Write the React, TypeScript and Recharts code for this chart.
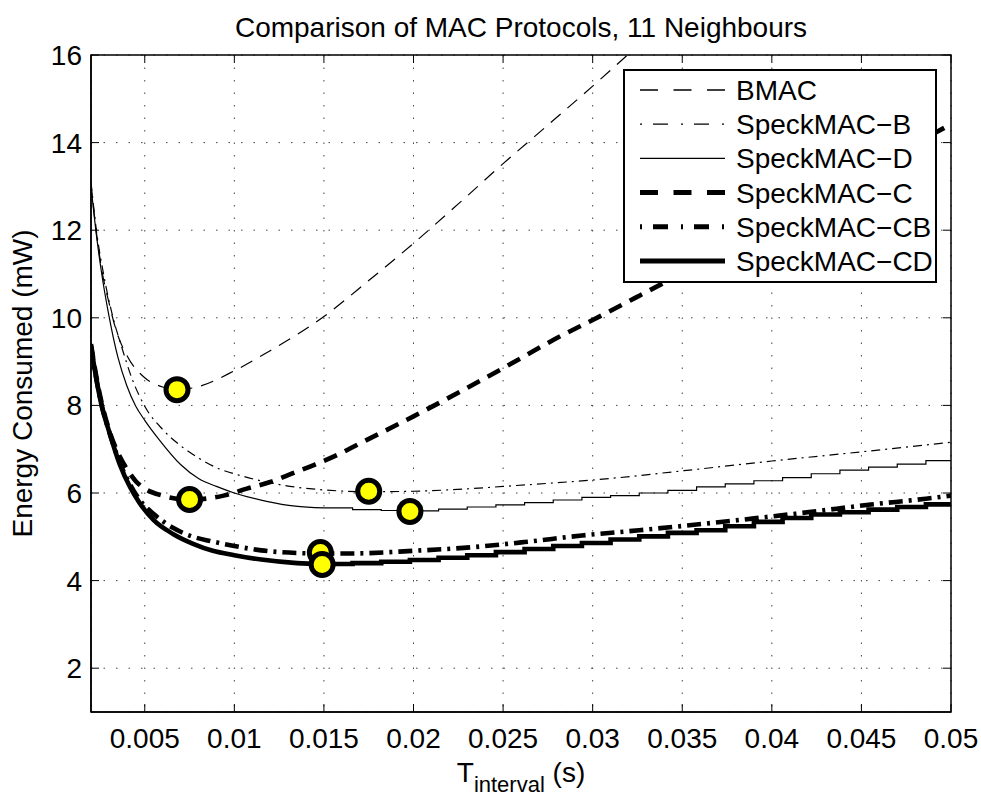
import { ComposedChart, Line, XAxis, YAxis, CartesianGrid } from 'recharts';

const FONT = '"Liberation Sans", Arial, Helvetica, sans-serif';

// axis ticks
const xTicks = [0.005, 0.01, 0.015, 0.02, 0.025, 0.03, 0.035, 0.04, 0.045, 0.05];
const yTicks = [2, 4, 6, 8, 10, 12, 14, 16];

const seriesNames = ['BMAC', 'SpeckMAC−B', 'SpeckMAC−D', 'SpeckMAC−C', 'SpeckMAC−CB', 'SpeckMAC−CD'];

// [T_interval (s), energy (mW)]
const bmac = [
  [0.002, 13.05], [0.0023, 11.95], [0.0026, 11.1], [0.003, 10.35], [0.0034, 9.72], [0.004, 9.14],
  [0.005, 8.63], [0.006, 8.42], [0.0068, 8.36], [0.008, 8.43], [0.01, 8.79], [0.012, 9.25],
  [0.015, 10.03], [0.0175, 10.85], [0.02, 11.7], [0.0225, 12.6], [0.025, 13.52], [0.0275, 14.4],
  [0.03, 15.29], [0.032, 16.02],
];

const speckB = [
  [0.002, 13.1], [0.0023, 12.0], [0.0027, 11.0], [0.0032, 10.05], [0.0037, 9.35], [0.0043, 8.6],
  [0.005, 7.98], [0.006, 7.45], [0.007, 7.08], [0.008, 6.8], [0.009, 6.58], [0.0105, 6.38],
  [0.0124, 6.2], [0.015, 6.07], [0.0175, 6.03], [0.02, 6.04], [0.0232, 6.1], [0.025, 6.15],
  [0.0275, 6.22], [0.0304, 6.31], [0.0351, 6.51], [0.04, 6.73], [0.045, 6.94], [0.05, 7.16],
];

// smooth descending part of SpeckMAC-D, the stepped part follows below
const speckDHead = [
  [0.002, 13.0], [0.0023, 11.9], [0.0026, 11.0], [0.003, 10.05], [0.0035, 9.1], [0.004, 8.45],
  [0.0045, 7.98], [0.005, 7.66], [0.0058, 7.22], [0.007, 6.65], [0.008, 6.33], [0.009, 6.15],
  [0.01, 6.0], [0.0118, 5.81], [0.0134, 5.7], [0.015, 5.66],
];

const speckC = [
  [0.002, 9.4], [0.0023, 8.65], [0.0026, 8.05], [0.003, 7.45], [0.0035, 6.92], [0.004, 6.55],
  [0.0045, 6.27], [0.005, 6.1], [0.006, 5.94], [0.0075, 5.85], [0.0094, 5.94], [0.0107, 6.1],
  [0.012, 6.25], [0.0132, 6.44], [0.0145, 6.65], [0.0158, 6.88], [0.017, 7.13], [0.02, 7.75],
  [0.025, 8.85], [0.0282, 9.58], [0.03, 9.95], [0.0324, 10.46], [0.035, 11.02], [0.04, 12.15],
  [0.045, 13.3], [0.05, 14.42],
];

const speckCB = [
  [0.002, 9.35], [0.0023, 8.6], [0.0026, 8.0], [0.003, 7.42], [0.0036, 6.7], [0.0042, 6.18],
  [0.0047, 5.85], [0.0055, 5.52], [0.0066, 5.2], [0.0077, 5.0], [0.0087, 4.9], [0.01, 4.79],
  [0.0115, 4.69], [0.0135, 4.63], [0.0148, 4.62], [0.0165, 4.62], [0.02, 4.68], [0.0232, 4.76],
  [0.0262, 4.88], [0.0294, 5.03], [0.0326, 5.15], [0.0358, 5.28], [0.039, 5.42], [0.0422, 5.57],
  [0.0454, 5.73], [0.0486, 5.87], [0.05, 5.94],
];

const speckCDHead = [
  [0.002, 9.35], [0.0023, 8.6], [0.0026, 7.98], [0.003, 7.42], [0.0036, 6.66], [0.0042, 6.12],
  [0.0047, 5.78], [0.0055, 5.38], [0.0066, 5.06], [0.0077, 4.84], [0.0088, 4.68], [0.01, 4.58],
  [0.0115, 4.48], [0.0135, 4.4], [0.015, 4.38],
];

// staircase: x where each step starts (last = right edge), with the level of D and CD on it
const stepEdges = [
  0.015, 0.0166, 0.0182, 0.0198, 0.0214, 0.023, 0.0246, 0.0262, 0.0278, 0.0294, 0.031, 0.0326,
  0.0342, 0.0358, 0.0374, 0.039, 0.0406, 0.0422, 0.0438, 0.0454, 0.047, 0.0486, 0.05,
];
const speckDSteps = [
  5.66, 5.62, 5.6, 5.59, 5.63, 5.68, 5.73, 5.78, 5.84, 5.9, 5.94, 6.0,
  6.06, 6.14, 6.21, 6.28, 6.35, 6.44, 6.52, 6.59, 6.66, 6.74, 6.74,
];
const speckCDSteps = [
  4.38, 4.4, 4.43, 4.47, 4.52, 4.58, 4.65, 4.72, 4.79, 4.86, 4.94, 5.01,
  5.09, 5.15, 5.24, 5.34, 5.43, 5.51, 5.56, 5.62, 5.68, 5.74, 5.74,
];

// minimum of each curve (yellow markers)
const optima = [
  [0.0068, 8.36], [0.0175, 6.04], [0.0198, 5.58], [0.0075, 5.85], [0.0148, 4.64], [0.0149, 4.37],
];

const toPts = (arr: number[][]) => arr.map(([x, y]) => ({ x, y }));
const toSteps = (levels: number[]) => stepEdges.map((x, i) => ({ x, y: levels[i] }));

const THIN = 1.2;
const THICK = 4.6;

// plot box (chart margins + axis sizes)
const PLOT = { left: 91, right: 951, top: 55, bottom: 712 };
const TICK_LEN = 8;

// matlab style: ticks point inward, on all four sides
const XTick = (props: any) => {
  const { x, y, payload } = props;
  return (
    <g>
      <line x1={x} x2={x} y1={PLOT.bottom} y2={PLOT.bottom - TICK_LEN} stroke="#000" />
      <line x1={x} x2={x} y1={PLOT.top} y2={PLOT.top + TICK_LEN} stroke="#000" />
      <text x={x} y={y} dy="0.71em" textAnchor="middle" fontFamily={FONT} fontSize={28} fill="#000">
        {String(payload.value)}
      </text>
    </g>
  );
};

const YTick = (props: any) => {
  const { x, y, payload } = props;
  return (
    <g>
      <line x1={PLOT.left} x2={PLOT.left + TICK_LEN} y1={y} y2={y} stroke="#000" />
      <line x1={PLOT.right} x2={PLOT.right - TICK_LEN} y1={y} y2={y} stroke="#000" />
      <text x={x} y={y} dy="0.355em" textAnchor="end" fontFamily={FONT} fontSize={28} fill="#000">
        {String(payload.value)}
      </text>
    </g>
  );
};

const XLabel = (props: any) => {
  const vb = props.viewBox || { x: 91, y: 712, width: 860, height: 84 };
  return (
    <text x={vb.x + vb.width / 2} y={vb.y + 70} textAnchor="middle" fontFamily={FONT} fontSize={28} fill="#000">
      <tspan>T</tspan>
      <tspan fontSize={22} dy={10}>interval</tspan>
      <tspan dy={-10}> (s)</tspan>
    </text>
  );
};

const YLabel = (props: any) => {
  const vb = props.viewBox || { x: 0, y: 55, width: 91, height: 657 };
  const cx = vb.x + 32;
  const cy = vb.y + vb.height / 2;
  return (
    <text x={cx} y={cy} transform={`rotate(-90 ${cx} ${cy})`} textAnchor="middle" fontFamily={FONT} fontSize={28} fill="#000">
      Energy Consumed (mW)
    </text>
  );
};

const legendStyles = [
  { w: 1.3, dash: '18 15.5' },
  { w: 1.3, dash: '2 11 15 13' },
  { w: 1.3, dash: undefined },
  { w: 5, dash: '18 15.5' },
  { w: 5, dash: '2 11 15 13' },
  { w: 5, dash: undefined },
];

function LegendBox() {
  return (
    <div
      style={{
        position: 'absolute', left: 623, top: 69, width: 314, height: 214,
        boxSizing: 'border-box', border: '2px solid #000', background: '#fff',
      }}
    >
      <svg width={310} height={210} style={{ display: 'block' }}>
        {seriesNames.map((name, i) => {
          const y = 19 + 34.2 * i;
          return (
            <g key={name}>
              <line x1={15} x2={100} y1={y} y2={y} stroke="#000" strokeWidth={legendStyles[i].w} strokeDasharray={legendStyles[i].dash} />
              <text x={111} y={y + 10} fontFamily={FONT} fontSize={28} fill="#000">{name}</text>
            </g>
          );
        })}
      </svg>
    </div>
  );
}

export default function App() {
  const lineCommon = { dataKey: 'y', dot: false, isAnimationActive: false, stroke: '#000' } as const;

  return (
    <div style={{ position: 'absolute', left: 0, top: 0, width: 981, height: 796, background: '#fff' }}>
      <ComposedChart width={981} height={796} margin={{ top: 55, right: 30, bottom: 0, left: 0 }}>
        <CartesianGrid stroke="#444" strokeDasharray="1.5 11" />
        <XAxis
          dataKey="x" type="number" domain={[0.002, 0.05]} ticks={xTicks} allowDataOverflow
          height={84} tickLine={false} tickSize={0} tickMargin={16} tick={<XTick />}
          axisLine={{ stroke: '#000', strokeWidth: 1.5 }}
          label={<XLabel />}
        />
        <YAxis
          dataKey="y" type="number" domain={[1, 16]} ticks={yTicks} allowDataOverflow
          width={91} tickLine={false} tickSize={0} tickMargin={9} tick={<YTick />}
          axisLine={{ stroke: '#000', strokeWidth: 1.5 }}
          label={<YLabel />}
        />

        <Line {...lineCommon} data={toPts(bmac)} type="monotone" strokeWidth={THIN} strokeDasharray="13 9" />
        <Line {...lineCommon} data={toPts(speckB)} type="monotone" strokeWidth={THIN} strokeDasharray="9 5 2 5" />
        <Line {...lineCommon} data={toPts(speckDHead)} type="monotone" strokeWidth={THIN} />
        <Line {...lineCommon} data={toSteps(speckDSteps)} type="stepAfter" strokeWidth={THIN} />
        <Line {...lineCommon} data={toPts(speckC)} type="monotone" strokeWidth={THICK} strokeDasharray="14 9" />
        <Line {...lineCommon} data={toPts(speckCB)} type="monotone" strokeWidth={THICK} strokeDasharray="14 6 3 6" />
        <Line {...lineCommon} data={toPts(speckCDHead)} type="monotone" strokeWidth={THICK} />
        <Line {...lineCommon} data={toSteps(speckCDSteps)} type="stepAfter" strokeWidth={THICK} />

        <Line
          data={toPts(optima)} dataKey="y" stroke="none" isAnimationActive={false}
          dot={{ r: 11, fill: '#ffff00', stroke: '#000', strokeWidth: 5 }}
          activeDot={false}
        />
      </ComposedChart>

      {/* title and the axes box drawn over the chart */}
      <svg width={981} height={796} style={{ position: 'absolute', left: 0, top: 0, pointerEvents: 'none' }}>
        <text x={521} y={37} textAnchor="middle" fontFamily={FONT} fontSize={28} fill="#000">
          Comparison of MAC Protocols, 11 Neighbours
        </text>
        <rect
          x={PLOT.left} y={PLOT.top} width={PLOT.right - PLOT.left} height={PLOT.bottom - PLOT.top}
          fill="none" stroke="#000" strokeWidth={1.5}
        />
      </svg>

      <LegendBox />
    </div>
  );
}
